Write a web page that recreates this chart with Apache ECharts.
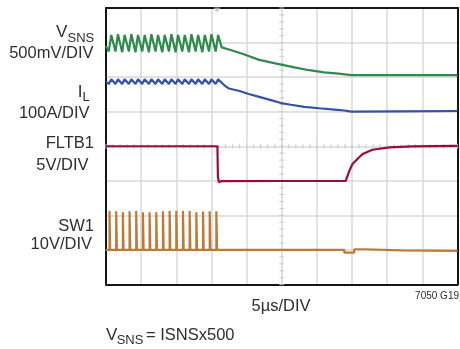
<!DOCTYPE html>
<html><head><meta charset="utf-8">
<script src="https://cdn.jsdelivr.net/npm/echarts@6/dist/echarts.min.js"></script>
<style>html,body{margin:0;padding:0;background:#fff}#c{width:460px;height:349px}</style>
</head><body><div id="c"></div><script>
// ---- axes: time in µs (5 µs/DIV, 10 DIV), vertical in divisions (8 DIV)
const timeMin = 0, timeMax = 50, timeStep = 5;
const divMin = 0, divMax = 8, divStep = 1;

// ---- channels
const chNames  = ['VSNS', 'IL', 'FLTB1', 'SW1'];
const chScale  = [0.5, 100, 5, 10];      // units per DIV
const chGround = [6, 5, 3, 1];           // ground level (DIV from bottom)
const chColor  = ['#2f8a4d', '#3553a5', '#9a0c36', '#bf7936'];

// ---- VSNS (V)
const vsnsT = [0, 0.40,0.75, 1.35,1.70, 2.30,2.65, 3.25,3.60, 4.20,4.55, 5.15,5.50, 6.10,6.45, 7.05,7.40,
  8.00,8.35, 8.95,9.30, 9.90,10.25, 10.85,11.20, 11.80,12.15, 12.75,13.10, 13.70,14.05, 14.65,15.00, 15.60,15.95,
  16.45, 17.5, 19.6, 21.8, 24.9, 26.8, 28.9, 31.0, 33.1, 34.9, 42.0, 50.0];
const vsnsV = [0.45, 0.37,0.61, 0.37,0.62, 0.36,0.61, 0.37,0.62, 0.36,0.61, 0.37,0.61, 0.36,0.62, 0.37,0.61,
  0.36,0.61, 0.37,0.62, 0.36,0.61, 0.37,0.61, 0.36,0.62, 0.37,0.61, 0.36,0.61, 0.37,0.62, 0.37,0.61,
  0.43, 0.40, 0.33, 0.25, 0.18, 0.14, 0.10, 0.07, 0.05, 0.03, 0.03, 0.03];

// ---- IL (A)
const ilT = [0, 0.40,0.75, 1.35,1.70, 2.30,2.65, 3.25,3.60, 4.20,4.55, 5.15,5.50, 6.10,6.45, 7.05,7.40,
  8.00,8.35, 8.95,9.30, 9.90,10.25, 10.85,11.20, 11.80,12.15, 12.75,13.10, 13.70,14.05, 14.65,15.00, 15.60,15.95,
  16.8, 17.5, 19.0, 20.3, 21.8, 23.2, 24.9, 26.3, 28.2, 30.3, 32.5, 33.9, 34.9, 41.7, 50.0];
const ilA = [87, 80,94, 80,94, 80,94, 80,94, 80,94, 80,94, 80,94, 80,94,
  80,94, 80,94, 80,94, 80,94, 80,94, 80,94, 80,94, 80,94, 80,94,
  77, 67, 60, 51, 43, 35, 25, 20, 14, 10, 6, 3.5, 0, 1, 2];

// ---- FLTB1 (V)
const fltT = [0, 15.85, 15.92, 16.05, 16.4, 25.0, 34.1, 34.6, 35.06, 35.8, 36.5, 37.9, 40.3, 43.5, 50.0];
const fltV = [5.0, 5.0, 0.6, -0.2, -0.05, -0.03, 0.0, 1.4, 2.43, 3.2, 3.87, 4.49, 4.84, 4.99, 5.05];

// ---- SW1 (V), each value holds until the next time
const swT = [0, 0.50,0.60, 1.45,1.55, 2.40,2.50, 3.35,3.45, 4.30,4.40, 5.25,5.35, 6.20,6.30, 7.15,7.25,
  8.10,8.20, 9.05,9.15, 10.00,10.10, 10.95,11.05, 11.90,12.00, 12.85,12.95, 13.80,13.90, 14.75,14.85, 15.70,15.80,
  33.9, 35.3, 36.7, 42.0, 50.0];
const swV = [0, 11.3,0, 11.2,0, 10.9,0, 11.2,0, 11.3,0, 10.9,0, 10.9,0, 10.9,0,
  11.2,0, 11.3,0, 11.3,0, 11.3,0, 11.3,0, 10.9,0, 11.1,0, 11.2,0, 11.2,0,
  -0.8, 0.2, -0.1, -0.3, -0.4];

const trigTime = 15.8;

const traces = [[vsnsT, vsnsV], [ilT, ilA], [fltT, fltV], [swT, swV]];
const FONT = 'Liberation Sans, Arial, Helvetica, sans-serif';
const TXT = '#2e2e2e';

const chart = echarts.init(document.getElementById('c'), null, {renderer: 'canvas'});

const series = [];
// center-line minor ticks (graticule decoration)
const hTicks = [], vTicks = [];
for (let t = timeMin; t <= timeMax + 1e-9; t += 1) hTicks.push([t, (divMin + divMax) / 2]);
for (let d = divMin; d <= divMax + 1e-9; d += 0.2) vTicks.push([(timeMin + timeMax) / 2, d]);
series.push({type: 'scatter', data: hTicks, symbol: 'rect', symbolSize: [1.2, 5], silent: true,
  itemStyle: {color: '#c9c9c9'}, z: 1, animation: false});
series.push({type: 'scatter', data: vTicks, symbol: 'rect', symbolSize: [5, 1.2], silent: true,
  itemStyle: {color: '#c9c9c9'}, z: 1, animation: false});
// trigger marker
series.push({type: 'scatter', data: [[trigTime, divMax - 0.06]], symbol: 'triangle', symbolRotate: 180,
  symbolSize: [7, 5], itemStyle: {color: '#bdbdbd'}, silent: true, z: 1, clip: false, animation: false});

traces.forEach(([T, V], c) => {
  series.push({
    type: 'line', name: chNames[c],
    data: T.map((t, i) => [t, chGround[c] + V[i] / chScale[c]]),
    symbol: 'none', showSymbol: false, step: chNames[c] === 'SW1' ? 'end' : false,
    lineStyle: {color: chColor[c], width: 2.2}, z: 5, animation: false
  });
  // ground marker at the left edge
  series.push({
    type: 'line', data: [[timeMin - 0.85, chGround[c]], [timeMin - 0.05, chGround[c]]],
    symbol: 'none', clip: false, lineStyle: {color: chColor[c], width: 1.6}, z: 5, animation: false
  });
});

function txt(text, x, y, size, align) {
  return {type: 'text', x: x, y: y, silent: true, z: 10,
    style: {text: text, fontSize: size, fontFamily: FONT, fill: TXT,
      align: align, textAlign: align, verticalAlign: 'middle', textVerticalAlign: 'middle'}};
}

const graphics = [
  txt('V', 67.3, 32.7, 17, 'right'),
  txt('SNS', 67.5, 38, 13, 'left'),
  txt('500mV/DIV', 93.5, 53, 16.5, 'right'),
  txt('I', 82.5, 92, 17, 'right'),
  txt('L', 82.5, 97, 13, 'left'),
  txt('100A/DIV', 89.5, 113.3, 16.5, 'right'),
  txt('FLTB1', 94, 143.3, 16.5, 'right'),
  txt('5V/DIV', 88.5, 165, 16.5, 'right'),
  txt('SW1', 94, 226, 16.5, 'right'),
  txt('10V/DIV', 92, 244.5, 16.5, 'right'),
  txt('5µs/DIV', 281, 306.7, 16.5, 'center'),
  txt('7050 G19', 459, 296.2, 10, 'right'),
  txt('V', 106, 335, 17, 'left'),
  txt('SNS', 116.7, 340.3, 13, 'left'),
  txt('= ISNSx500', 146, 335, 16.5, 'left')
];

const frameLine = {show: true, onZero: false, lineStyle: {color: '#151515', width: 2}};
chart.setOption({
  animation: false,
  grid: {left: 106, right: 2.5, top: 8, bottom: 64.5, containLabel: false},
  xAxis: [
    {type: 'value', min: timeMin, max: timeMax, interval: timeStep, position: 'bottom',
      axisLine: frameLine, axisTick: {show: false}, axisLabel: {show: false},
      splitLine: {show: true, lineStyle: {color: '#d9d9d9', width: 1.5}}},
    {type: 'value', min: timeMin, max: timeMax, interval: timeStep, position: 'top',
      axisLine: frameLine, axisTick: {show: false}, axisLabel: {show: false}, splitLine: {show: false}}
  ],
  yAxis: [
    {type: 'value', min: divMin, max: divMax, interval: divStep, position: 'left',
      axisLine: frameLine, axisTick: {show: false}, axisLabel: {show: false},
      splitLine: {show: true, lineStyle: {color: '#d9d9d9', width: 1.5}}},
    {type: 'value', min: divMin, max: divMax, interval: divStep, position: 'right',
      axisLine: frameLine, axisTick: {show: false}, axisLabel: {show: false}, splitLine: {show: false}}
  ],
  series: series,
  graphic: graphics
});
</script></body></html>
